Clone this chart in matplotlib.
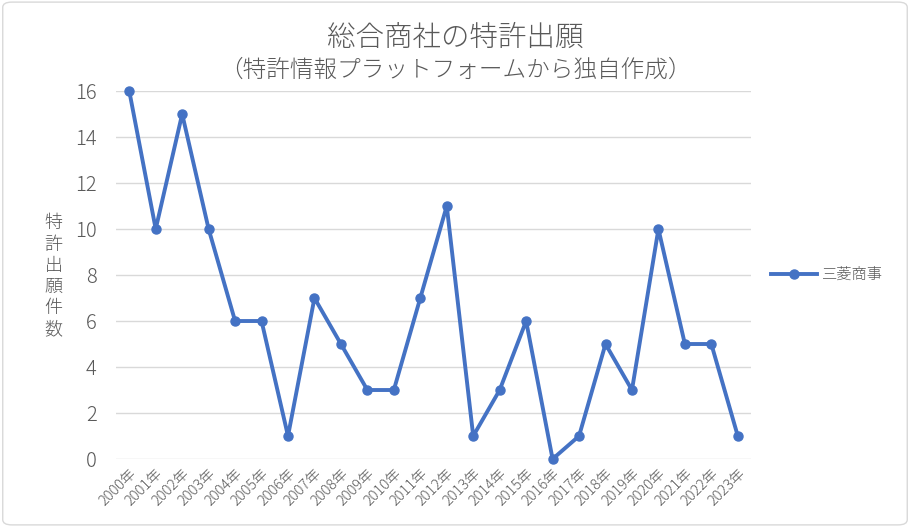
import matplotlib
matplotlib.use("Agg")
import matplotlib.pyplot as plt
from matplotlib.patches import FancyBboxPatch

plt.rcParams['font.family'] = ['Noto Sans CJK JP', 'DejaVu Sans']

years = [f"{y}年" for y in range(2000, 2024)]
mitsubishi = [16, 10, 15, 10, 6, 6, 1, 7, 5, 3, 3, 7, 11, 1, 3, 6, 0, 1, 5, 3, 10, 5, 5, 1]
yticks = [0, 2, 4, 6, 8, 10, 12, 14, 16]

fig = plt.figure(figsize=(9.1, 5.27), dpi=100)
border = FancyBboxPatch((0.003, 0.004), 0.994, 0.992, boxstyle="round,pad=0,rounding_size=0.01",
                        transform=fig.transFigure, facecolor='none', edgecolor='#d9d9d9', lw=1.0)
fig.patches.append(border)

ax = fig.add_axes([0.1275, 0.129, 0.6978, 0.6983])
ax.set_facecolor('none')
x = list(range(len(years)))
ax.plot(x, mitsubishi, color='#4472C4', lw=2.8, marker='o', markersize=6.5, label='三菱商事',
        solid_joinstyle='round', zorder=3, clip_on=False)
ax.set_xlim(-0.5, len(years) - 0.5)
ax.set_ylim(0, 16)
ax.set_yticks(yticks)
ax.set_yticklabels([str(v) for v in yticks], fontsize=14.5, color='#595959', fontweight='light')
ax.set_xticks(x)
ax.set_xticklabels(years, rotation=45, ha='right', rotation_mode='anchor', fontsize=10.5,
                   color='#595959', fontweight='light')
ax.tick_params(axis='both', length=0)
ax.tick_params(axis='y', pad=14)
ax.tick_params(axis='x', pad=5)
ax.grid(axis='y', color='#d9d9d9', lw=1.0)
for s in ax.spines.values():
    s.set_visible(False)
ax.set_axisbelow(True)

fig.text(0.5, 0.929, '総合商社の特許出願', ha='center', va='center', fontsize=20.5, color='#595959',
         fontweight='light')
fig.text(0.5, 0.866, '（特許情報プラットフォームから独自作成）', ha='center', va='center', fontsize=17,
         color='#595959', fontweight='light')
fig.text(0.059, 0.476, '\n'.join('特許出願件数'), ha='center', va='center', fontsize=13,
         color='#595959', linespacing=1.22, fontweight='light')

leg = ax.legend(loc='center left', bbox_to_anchor=(1.01, 0.5), frameon=False,
                prop={'size': 11, 'weight': 'light'},
                handlelength=3.0, labelcolor='#595959', handletextpad=0.3)

fig.savefig('out.png', dpi=100)
